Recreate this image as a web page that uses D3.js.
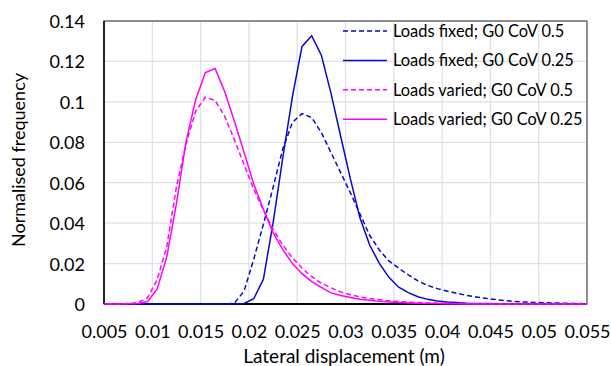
<!DOCTYPE html>
<html>
<head>
<meta charset="utf-8">
<script src="https://cdn.jsdelivr.net/npm/d3@7"></script>
<style>
  body { margin: 0; background: #fff; }
  svg text { font-family: Lato, "Open Sans", sans-serif; fill: #000; }
</style>
</head>
<body>
<svg id="chart" width="611" height="366"></svg>
<script>
// bin centres (m)
let displacement = [0.0045, 0.0055, 0.0065, 0.0075, 0.0085, 0.0095, 0.0105, 0.0115, 0.0125, 0.0135,
                    0.0145, 0.0155, 0.0165, 0.0175, 0.0185, 0.0195, 0.0205, 0.0215, 0.0225, 0.0235,
                    0.0245, 0.0255, 0.0265, 0.0275, 0.0285, 0.0295, 0.0305, 0.0315, 0.0325, 0.0335,
                    0.0345, 0.0355, 0.0365, 0.0375, 0.0385, 0.0395, 0.0405, 0.0415, 0.0425, 0.0435,
                    0.0445, 0.0455, 0.0465, 0.0475, 0.0485, 0.0495, 0.0505, 0.0515, 0.0525, 0.0535,
                    0.0545, 0.0555];

let fixedCov05 = [0, 0, 0, 0, 0, 0, 0, 0, 0, 0,
                  0, 0, 0, 0, 0.0004, 0.0064, 0.0221, 0.0394, 0.0576, 0.0766,
                  0.0898, 0.0942, 0.0922, 0.0848, 0.0749, 0.065, 0.0551, 0.0445, 0.034, 0.0267,
                  0.0213, 0.0177, 0.0144, 0.0114, 0.0092, 0.0076, 0.0064, 0.0053, 0.0043, 0.0035,
                  0.0028, 0.0022, 0.0017, 0.0013, 0.001, 0.0008, 0.0006, 0.0005, 0.0004, 0.0003,
                  0.0002, 0.0001];

let fixedCov025 = [0, 0, 0, 0, 0, 0, 0, 0, 0, 0,
                   0, 0, 0, 0, 0, 0.0003, 0.0026, 0.0122, 0.040, 0.072,
                   0.1025, 0.1274, 0.1327, 0.1231, 0.1042, 0.083, 0.062, 0.0425, 0.0292, 0.0201,
                   0.0132, 0.0083, 0.0056, 0.0036, 0.0023, 0.0015, 0.001, 0.0007, 0.0004, 0.0003,
                   0.0002, 0.0001, 0.0001, 0, 0, 0, 0, 0, 0, 0,
                   0, 0];

let variedCov05 = [0, 0, 0, 0.0002, 0.0007, 0.003, 0.012, 0.0284, 0.058, 0.0795,
                   0.0955, 0.1023, 0.1007, 0.0928, 0.0812, 0.069, 0.0568, 0.0464, 0.037, 0.0292,
                   0.0229, 0.0177, 0.0135, 0.0103, 0.008, 0.006, 0.0046, 0.0035, 0.0027, 0.0021,
                   0.0016, 0.0012, 0.0009, 0.0007, 0.0005, 0.0004, 0.0003, 0.0002, 0.0002, 0.0001,
                   0.0001, 0, 0, 0, 0, 0, 0, 0, 0, 0,
                   0, 0];

let variedCov025 = [0, 0, 0, 0.0001, 0.0003, 0.0012, 0.0073, 0.0234, 0.0498, 0.0805,
                    0.1013, 0.1145, 0.1165, 0.105, 0.0904, 0.0749, 0.0593, 0.0469, 0.0353, 0.027,
                    0.020, 0.015, 0.0111, 0.0082, 0.0055, 0.0042, 0.0032, 0.0024, 0.0018, 0.0013,
                    0.001, 0.0007, 0.0005, 0.0004, 0.0003, 0.0002, 0.0001, 0.0001, 0, 0,
                    0, 0, 0, 0, 0, 0, 0, 0, 0, 0,
                    0, 0];

let seriesNames = ["Loads fixed; G0 CoV 0.5", "Loads fixed; G0 CoV 0.25",
                   "Loads varied; G0 CoV 0.5", "Loads varied; G0 CoV 0.25"];

let xTicks = [0.005, 0.01, 0.015, 0.02, 0.025, 0.03, 0.035, 0.04, 0.045, 0.05, 0.055];
let yTicks = [0, 0.02, 0.04, 0.06, 0.08, 0.1, 0.12, 0.14];

let blue = "#0808c8";
let pink = "#ff00ff";

let series = [
  {name: seriesNames[0], values: fixedCov05, color: blue, dash: "5,3"},
  {name: seriesNames[1], values: fixedCov025, color: blue, dash: null},
  {name: seriesNames[2], values: variedCov05, color: pink, dash: "5,3"},
  {name: seriesNames[3], values: variedCov025, color: pink, dash: null}
];

let svg = d3.select("#chart");

let plotLeft = 104, plotRight = 587, plotTop = 21, plotBottom = 304;

let xScale = d3.scaleLinear().domain([0.005, 0.055]).range([plotLeft, plotRight]);
let yScale = d3.scaleLinear().domain([0, 0.14]).range([plotBottom, plotTop]);

// gridlines
svg.append("g")
   .selectAll("line")
   .data(xTicks)
   .enter()
   .append("line")
   .attr("x1", (d)=>xScale(d))
   .attr("x2", (d)=>xScale(d))
   .attr("y1", plotTop)
   .attr("y2", plotBottom)
   .attr("stroke", "#dde1ea")
   .attr("stroke-width", 1.3);

svg.append("g")
   .selectAll("line")
   .data(yTicks)
   .enter()
   .append("line")
   .attr("x1", plotLeft)
   .attr("x2", plotRight)
   .attr("y1", (d)=>yScale(d))
   .attr("y2", (d)=>yScale(d))
   .attr("stroke", "#dde1ea")
   .attr("stroke-width", 1.3);

// frame
svg.append("rect")
   .attr("x", plotLeft)
   .attr("y", plotTop)
   .attr("width", plotRight - plotLeft)
   .attr("height", plotBottom - plotTop)
   .attr("fill", "none")
   .attr("stroke", "#333")
   .attr("stroke-width", 1);

// axes
let xAxis = d3.axisBottom(xScale)
              .tickValues(xTicks)
              .tickSize(0)
              .tickFormat((d)=>String(+d.toFixed(3)));

let yAxis = d3.axisLeft(yScale)
              .tickValues(yTicks)
              .tickSize(0)
              .tickFormat((d)=>String(+d.toFixed(2)));

let gx = svg.append("g")
            .attr("transform", "translate(0," + plotBottom + ")")
            .call(xAxis);
gx.select(".domain").remove();
gx.selectAll("text")
  .attr("y", 27.5)
  .attr("dy", "0.36em")
  .style("font-size", "18px");

let gy = svg.append("g")
            .attr("transform", "translate(" + plotLeft + ",0)")
            .call(yAxis);
gy.select(".domain").remove();
gy.selectAll("text")
  .attr("x", -19)
  .attr("dy", "0.36em")
  .style("font-size", "18px");

svg.append("line")
   .attr("x1", plotLeft).attr("x2", plotLeft)
   .attr("y1", plotTop).attr("y2", plotBottom)
   .attr("stroke", "#000")
   .attr("stroke-width", 1.5);

svg.append("line")
   .attr("x1", plotLeft).attr("x2", plotRight)
   .attr("y1", plotBottom).attr("y2", plotBottom)
   .attr("stroke", "#000")
   .attr("stroke-width", 2);

// series
svg.append("clipPath")
   .attr("id", "plotClip")
   .append("rect")
   .attr("x", plotLeft)
   .attr("y", plotTop)
   .attr("width", plotRight - plotLeft)
   .attr("height", plotBottom - plotTop + 2);

let line = d3.line()
             .x((d, i)=>xScale(displacement[i]))
             .y((d)=>yScale(d));

svg.append("g")
   .attr("clip-path", "url(#plotClip)")
   .selectAll("path")
   .data(series)
   .enter()
   .append("path")
   .attr("d", (d)=>line(d.values))
   .attr("fill", "none")
   .attr("stroke", (d)=>d.color)
   .attr("stroke-width", 1.5)
   .attr("stroke-dasharray", (d)=>d.dash);

// legend
let legend = svg.append("g")
                .attr("transform", "translate(343,31)");

let rows = legend.selectAll("g")
                 .data(series)
                 .enter()
                 .append("g")
                 .attr("transform", (d, i)=>"translate(0," + (i * 29.4) + ")");

rows.append("line")
    .attr("x1", 0)
    .attr("x2", 44)
    .attr("stroke", (d)=>d.color)
    .attr("stroke-width", 1.5)
    .attr("stroke-dasharray", (d)=>d.dash);

rows.append("text")
    .attr("x", 50)
    .attr("dy", "0.36em")
    .style("font-size", "16.4px")
    .text((d)=>d.name);

// axis titles
svg.append("text")
   .attr("x", 344)
   .attr("y", 363)
   .attr("text-anchor", "middle")
   .style("font-size", "19px")
   .text("Lateral displacement (m)");

svg.append("text")
   .attr("transform", "translate(24.5,160) rotate(-90)")
   .attr("text-anchor", "middle")
   .style("font-size", "18px")
   .text("Normalised frequency");
</script>
</body>
</html>
